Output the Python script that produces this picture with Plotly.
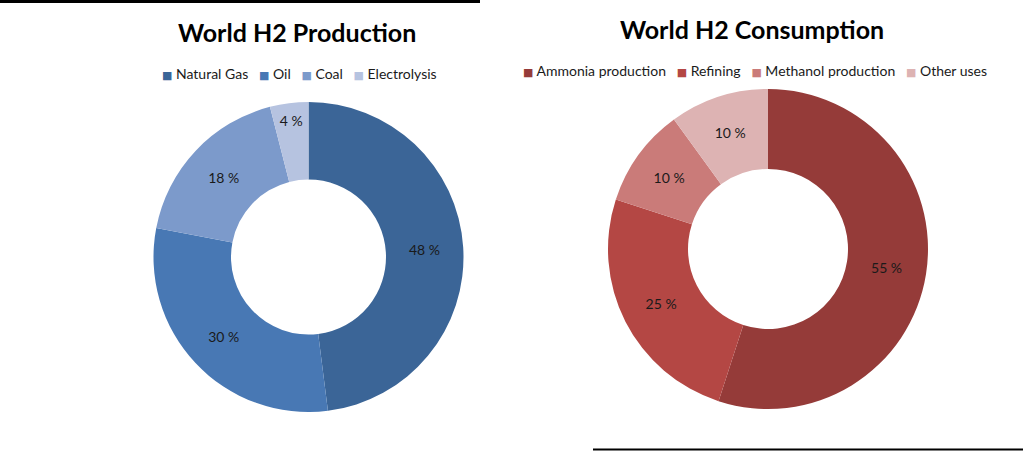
import plotly.graph_objects as go

prod_labels = ["Natural Gas", "Oil", "Coal", "Electrolysis"]
prod_values = [48, 30, 18, 4]
prod_colors = ["#3B6597", "#4878B4", "#7C9ACB", "#B6C3E0"]

cons_labels = ["Ammonia production", "Refining", "Methanol production", "Other uses"]
cons_values = [55, 25, 10, 10]
cons_colors = ["#953B39", "#B44744", "#CA7B79", "#DDB3B3"]

W, H = 1023, 451
FONT = "Lato"
NB = "\u00a0"

def px_dom(cx, cy, r):
    return dict(x=[(cx - r) / W, (cx + r) / W], y=[(H - cy - r) / H, (H - cy + r) / H])

def legend_text(labels, colors):
    items = []
    for lab, col in zip(labels, colors):
        sq = f"<span style='color:{col};font-family:DejaVu Sans;font-size:11px'>\u25A0</span>"
        items.append(sq + NB + lab)
    return (NB * 3).join(items)

fig = go.Figure()
fig.add_trace(go.Pie(
    labels=prod_labels, values=prod_values, hole=0.5, sort=False, direction="clockwise",
    rotation=0, marker=dict(colors=prod_colors, line=dict(width=0)),
    texttemplate="%{value} %", textposition="inside", insidetextorientation="horizontal",
    textfont=dict(family=FONT, size=14, color="#1a1a1a"),
    domain=px_dom(308.5, 257, 155), hoverinfo="label+percent",
))
fig.add_trace(go.Pie(
    labels=cons_labels, values=cons_values, hole=0.5, sort=False, direction="clockwise",
    rotation=0, marker=dict(colors=cons_colors, line=dict(width=0)),
    texttemplate="%{value} %", textposition="inside", insidetextorientation="horizontal",
    textfont=dict(family=FONT, size=14, color="#1a1a1a"),
    domain=px_dom(768, 249, 160), hoverinfo="label+percent",
))

fig.update_layout(
    width=W, height=H, margin=dict(l=0, r=0, t=0, b=0),
    paper_bgcolor="white", plot_bgcolor="white",
    showlegend=False,
    annotations=[
        dict(text="<b>World H2 Production</b>", x=297 / W, y=1 - 32 / H, xref="paper", yref="paper",
             showarrow=False, xanchor="center", yanchor="middle",
             font=dict(family=FONT, size=25, color="black")),
        dict(text="<b>World H2 Consumption</b>", x=752 / W, y=1 - 29 / H, xref="paper", yref="paper",
             showarrow=False, xanchor="center", yanchor="middle",
             font=dict(family=FONT, size=25, color="black")),
        dict(text=legend_text(prod_labels, prod_colors), x=299 / W, y=1 - 73 / H, xref="paper", yref="paper",
             showarrow=False, xanchor="center", yanchor="middle",
             font=dict(family=FONT, size=14, color="#1a1a1a")),
        dict(text=legend_text(cons_labels, cons_colors), x=754.5 / W, y=1 - 70 / H, xref="paper", yref="paper",
             showarrow=False, xanchor="center", yanchor="middle",
             font=dict(family=FONT, size=14, color="#1a1a1a")),
    ],
    shapes=[
        dict(type="line", xref="paper", yref="paper", x0=0, x1=480 / W, y0=1 - 1.5 / H, y1=1 - 1.5 / H,
             line=dict(color="black", width=3)),
        dict(type="line", xref="paper", yref="paper", x0=593 / W, x1=1, y0=1 - 449.5 / H, y1=1 - 449.5 / H,
             line=dict(color="black", width=2)),
    ],
)
fig.write_html("out.html")
